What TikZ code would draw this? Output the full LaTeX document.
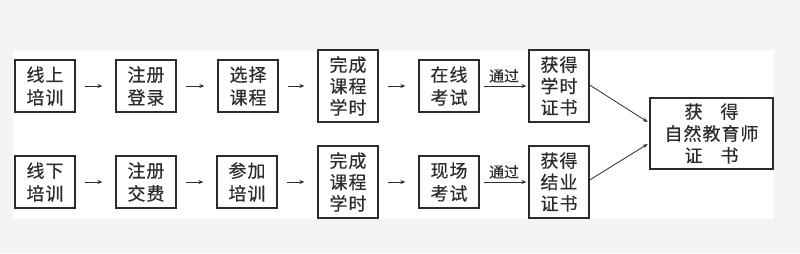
\documentclass[tikz,border=0pt]{standalone}
\usepackage{fontspec}
\setmainfont{Noto Sans CJK SC}[LetterSpace=6,FakeBold=0.4]
\newfontfamily\lblfont{Noto Sans CJK SC}[FakeBold=0.3]
\usetikzlibrary{arrows.meta}
\definecolor{bgc}{HTML}{F5F3F3}
\definecolor{ink}{HTML}{2C2C2C}
\tikzset{
  x=1bp,y=-1bp,
  box/.style={draw=ink,line width=1.3bp,fill=white,inner sep=0pt,align=center,
    font=\fontsize{18}{23}\selectfont,text=ink},
  box2/.style={box,minimum width=60bp,minimum height=52bp},
  box3/.style={box,minimum width=60bp,minimum height=72bp,font=\fontsize{18}{21.5}\selectfont},
  arr/.style={draw=ink,line width=0.8bp,-{Stealth[length=5bp,width=4bp]}},
  shortarr/.style={arr,shorten <=9bp,shorten >=13bp},
  lbl/.style={font=\lblfont\fontsize{15}{16}\selectfont,text=ink,inner sep=1bp}
}
\begin{document}
\begin{tikzpicture}
\useasboundingbox (0,0) rectangle (800,253);
\fill[bgc] (0,0) rectangle (800,253);
\fill[white] (13,50) rectangle (774,219);
% row 1
\node[box2] (a1) at (45,86) {线上\\培训};
\node[box2] (a2) at (146,86) {注册\\登录};
\node[box2] (a3) at (248,86) {选择\\课程};
\node[box3] (a4) at (348,86) {完成\\课程\\学时};
\node[box2] (a5) at (449,86) {在线\\考试};
\node[box3] (a6) at (559,86) {获得\\学时\\证书};
% row 2
\node[box2] (b1) at (45,182) {线下\\培训};
\node[box2] (b2) at (146,182) {注册\\交费};
\node[box2] (b3) at (247,182) {参加\\培训};
\node[box3] (b4) at (348,182) {完成\\课程\\学时};
\node[box2] (b5) at (449,182) {现场\\考试};
\node[box3] (b6) at (559,182) {获得\\结业\\证书};
% final
\node[box,minimum width=123bp,minimum height=71bp,font=\fontsize{18}{22}\selectfont] (c) at (711.5,133.5) {获\hspace{1em}得\\自然教育师\\证\hspace{1em}书};
% arrows
\foreach \u/\v in {a1/a2,a2/a3,a3/a4,a4/a5,b1/b2,b2/b3,b3/b4,b4/b5}
  \draw[shortarr] (\u) -- (\v);
\draw[arr,shorten <=4bp,shorten >=2bp] (a5) -- node[lbl,above=2bp] {通过} (a6);
\draw[arr,shorten <=4bp,shorten >=2bp] (b5) -- node[lbl,above=2bp] {通过} (b6);
\draw[arr,shorten >=2bp] (a6.east |- 0,85) -- (c.west |- 0,123);
\draw[arr,shorten >=2bp] (b6.east |- 0,180) -- (c.west |- 0,143);
\end{tikzpicture}
\end{document}
